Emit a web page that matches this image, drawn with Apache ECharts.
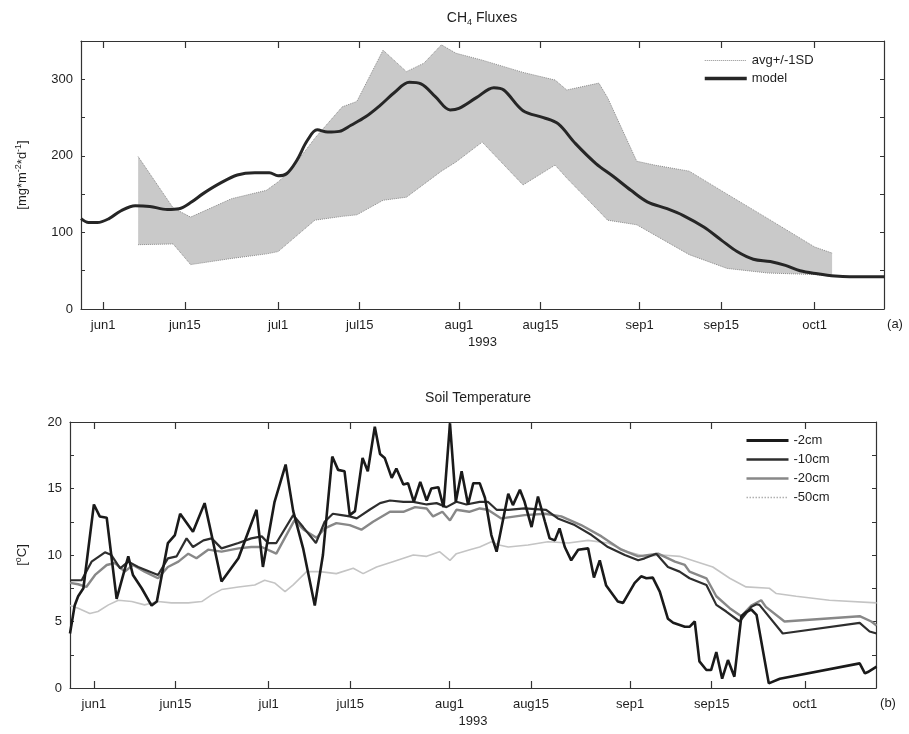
<!DOCTYPE html>
<html>
<head>
<meta charset="utf-8">
<script src="https://cdn.jsdelivr.net/npm/echarts@6/dist/echarts.min.js"></script>
<style>
  html, body { margin: 0; padding: 0; background: #fff; }
  #chart { width: 909px; height: 734px; }
</style>
</head>
<body>
<div id="chart"></div>
<script>
// Days are counted from 1 June 1993 (day 0).
const tickDays = [0, 14, 30, 44, 61, 75, 92, 106, 122];
const tickLabels = ['jun1', 'jun15', 'jul1', 'jul15', 'aug1', 'aug15', 'sep1', 'sep15', 'oct1'];

// CH4 flux measurements: mean +/- 1 SD envelope [mg m-2 d-1]
const bandDays  = [6, 12, 15, 22, 28, 30, 32, 36.3, 41, 43.5, 48, 52, 55, 58, 60.5, 65, 72, 77.5, 79.5, 85, 86.5, 91.5, 94.5, 100.5, 107, 114, 122, 125];
const bandUpper = [199, 132, 120, 144, 155, 166, 180, 223, 264, 271, 338, 310, 321, 345, 334, 325, 309, 299, 286, 295, 276, 193, 188, 180, 150, 118, 81, 73];
const bandLower = [84, 85, 58, 66, 72, 75, 88, 116, 121, 123, 142, 146, 163, 180, 192, 218, 162, 188, 171, 128, 116, 110, 97, 71, 53, 47, 45, 43];

// Modelled CH4 flux [day, mg m-2 d-1]
const modelFlux = [
  [-3.8,118],[-2.5,113],[-1,113],[1,118],[3,128],[5.5,135],[8,134],[11,130],[13,131],[15,139],
  [17.2,151],[20,164],[23,175],[26,178],[28.5,178],[30,174],[31.5,177],[33.2,194],[35,220],[36.7,234],
  [38.5,231],[40.5,232],[42.5,240],[45,251],[47.5,266],[50,283],[52.5,296],[54.5,294],[57,277],[59.5,260],
  [61,262],[64,276],[67,289],[68.7,286],[72,259],[75.5,250],[78,242],[81,216],[84.5,190],[87.5,173],
  [90.5,155],[93.3,140],[96.7,131],[99.5,122],[103,107],[106,90],[108.7,75],[111.5,65],[114.4,62],[117,57],
  [119.5,50],[122.5,46],[125.5,43],[128,42],[134,42]
];

// Soil temperatures [day, degC]
const temp2cm = [
  [-4.1,4.1],[-3.3,6.2],[-2.7,6.9],[-1.8,7.5],[0,13.8],[1,12.9],[2.2,12.8],[3.9,6.7],[5.9,9.9],[6.7,8.5],
  [8.2,7.5],[9.9,6.2],[10.8,6.5],[12.7,10.9],[13.9,11.5],[14.8,13.1],[17,11.75],[19,13.9],[20.2,11.5],[21.9,8.0],
  [24.8,9.75],[27.9,13.4],[29,9.1],[31,14],[32.9,16.8],[34.2,13.3],[35.9,10.5],[37.9,6.2],[39.3,10],[40.9,17.4],
  [41.9,16.4],[43,16.3],[43.9,13],[44.8,13.3],[46.1,17.3],[47,16.3],[48.2,19.65],[49.1,17.6],[49.9,17.3],[51.1,15.8],
  [51.9,16.5],[53.1,15.3],[53.9,15.4],[54.9,14],[56,15.5],[57.1,14.1],[57.9,15],[59.1,15.1],[60,13.6],[61.1,19.9],
  [62.1,14],[63.1,16.3],[64.2,13.8],[65.1,15.4],[66.2,15.4],[67.1,14.3],[68.2,11.5],[69.1,10.25],[71.1,14.6],[71.9,13.75],
  [73.1,14.9],[73.9,14],[75.1,12.1],[76.2,14.4],[77.4,12.5],[78.2,11.25],[79.1,11.1],[79.9,12],[80.8,10.6],[81.9,9.6],
  [83.1,10.4],[84.8,10.5],[85.8,8.3],[86.8,9.6],[87.9,7.7],[89.9,6.5],[90.8,6.4],[92.8,7.9],[93.9,8.4],[94.8,8.25],
  [95.9,8.3],[97.1,7.25],[98.5,5.2],[99.4,4.9],[101.4,4.6],[102.2,4.6],[103.1,5],[103.9,2],[105.1,1.35],[105.9,1.35],
  [106.8,2.7],[107.8,0.7],[108.8,2.1],[109.9,0.85],[111.1,5.4],[111.9,5.7],[112.8,5.9],[113.7,5.5],[115.8,0.35],[117.7,0.7],
  [131.4,1.85],[132.3,1.1],[132.8,1.2],[134.3,1.6]
];
const temp10cm = [
  [-4.1,8.1],[-2.1,8.1],[-0.4,9.5],[1.9,10.2],[3,10],[4.5,9],[5.9,9.5],[7.6,9.1],[11,8.5],[12.7,9.75],
  [14.2,9.9],[15.9,11.25],[17,10.6],[18.8,11.1],[20.2,11.25],[21.9,10.5],[24.8,10.9],[27,11.25],[28.8,11.4],[29.9,10.9],
  [31.3,10.9],[34.2,13],[35.9,12.1],[38.1,10.9],[39.6,12.5],[41,13.1],[42.5,13],[43.9,12.9],[45.1,12.75],[47.3,13.4],
  [49.1,13.9],[50.8,14.1],[53.1,14],[54.8,14],[57.1,13.8],[58.8,13.9],[60.5,13.6],[62.2,14],[63.9,13.8],[66.2,14],
  [67.6,14],[69.1,13.4],[71.1,13.4],[73.9,13.5],[77.6,13.4],[79.6,12.75],[82.5,12.25],[85.4,11.5],[88.2,10.6],[91.1,10],
  [93.4,9.6],[94.5,9.75],[96.5,10.1],[98.5,9.1],[100.5,8.75],[102.2,8.25],[105.1,7.75],[106.8,6.25],[108.5,5.75],[110.8,5],
  [112.8,6.1],[113.7,6.3],[114.2,6.25],[118.2,4.1],[131.4,4.9],[133.1,4.25],[134.3,4.1]
];
const temp20cm = [
  [-4.1,7.9],[-2.7,7.8],[-1.3,7.6],[0.2,8.5],[2.2,9.25],[3.6,9.4],[5.3,8.75],[6.7,9.25],[8.7,8.75],[11,8.25],
  [12.7,9.1],[14.5,9.5],[16.2,10.1],[17.6,9.75],[19.6,10.4],[21.9,10.25],[24.8,10.5],[27,10.6],[28.8,10.6],[31.3,10.1],
  [34.4,12.6],[36,11.9],[38.2,11.3],[39.6,12],[41.6,12.4],[43.9,12.25],[45.9,11.9],[47.9,12.5],[50.8,13.25],[53.1,13.25],
  [55.1,13.6],[57.1,13.5],[58.2,12.9],[59.8,13.25],[61.1,12.6],[62.2,13.4],[64.4,13.25],[66.2,13.5],[67.6,13.4],[69.9,12.75],
  [73.9,13],[77.4,13.1],[80.2,12.9],[83.6,12.25],[87.1,11.4],[90.5,10.4],[93.4,9.9],[96.8,10.1],[99.7,9.5],[101.4,9.25],
  [102.2,8.75],[105.1,8.25],[106.8,6.9],[109.1,6],[111.1,5.4],[112.8,6.2],[114.5,6.6],[115.3,6.1],[118.5,5],[131.4,5.4],
  [133.4,5],[134.3,4.7]
];
const temp50cm = [
  [-4.1,6.2],[-2.7,6],[-0.7,5.6],[0.7,5.75],[2.5,6.25],[4.2,6.6],[6.5,6.5],[8.7,6.25],[11,6.5],[13.3,6.4],
  [16.2,6.4],[18.5,6.5],[20.2,7],[21.9,7.4],[24.8,7.6],[27.6,7.75],[29.3,8.1],[31,7.9],[32.8,7.25],[34.2,7.75],
  [36.5,8.75],[38.8,8.75],[41.6,8.6],[44.5,9],[46.2,8.6],[48.5,9.1],[51.3,9.5],[54.8,10],[57.1,9.9],[59.3,10.25],
  [61.1,9.6],[62.2,10.1],[64.5,10.4],[66.2,10.6],[68.2,11],[69.5,10.75],[71.1,10.6],[74.5,10.75],[77.9,11],[81.4,10.9],
  [84.8,11.1],[88.2,10.9],[91.6,10.25],[94.5,9.9],[97.4,10],[100.5,9.9],[103.4,9.5],[106.2,9.1],[109.1,8.25],[111.9,7.6],
  [115.9,7.5],[117.1,7.1],[120.5,6.9],[126.2,6.6],[134.3,6.4]
];

const FONT = '"Liberation Sans", Arial, Helvetica, sans-serif';
const AXIS_COLOR = '#333';
const TEXT_COLOR = '#1e1e1e';

function dateAxis(gridIndex, position, withLabels, min, max) {
  return {
    type: 'value', gridIndex, position, min, max,
    name: withLabels ? '1993' : '',
    nameLocation: 'middle', nameGap: 27,
    nameTextStyle: { fontFamily: FONT, fontSize: 13, color: TEXT_COLOR },
    axisLine: { show: true, onZero: false, lineStyle: { color: AXIS_COLOR, width: 1.2 } },
    axisTick: { show: true, inside: true, length: 7, customValues: tickDays, lineStyle: { color: AXIS_COLOR, width: 1.2 } },
    axisLabel: {
      show: withLabels, customValues: tickDays, margin: 10,
      fontFamily: FONT, fontSize: 13, color: TEXT_COLOR,
      formatter: v => tickLabels[tickDays.indexOf(v)] || ''
    },
    splitLine: { show: false }
  };
}

function valueAxis(gridIndex, position, withLabels, min, max, interval, labelStep, name, nameGap, nameRich) {
  return {
    type: 'value', gridIndex, position, min, max, interval,
    name: withLabels ? name : '',
    nameLocation: 'middle', nameRotate: 90, nameGap,
    nameTextStyle: { fontFamily: FONT, fontSize: 13, color: TEXT_COLOR, rich: nameRich },
    axisLine: { show: true, onZero: false, lineStyle: { color: AXIS_COLOR, width: 1.2 } },
    axisTick: { show: true, inside: true, length: 4, lineStyle: { color: AXIS_COLOR, width: 1 } },
    axisLabel: {
      show: withLabels, margin: 8, fontFamily: FONT, fontSize: 13, color: TEXT_COLOR,
      formatter: v => (Math.abs(v % labelStep) < 1e-9 ? String(v) : '')
    },
    splitLine: { show: false }
  };
}

const baseText = { fontFamily: FONT, fontSize: 13, color: TEXT_COLOR, lineHeight: 16, verticalAlign: 'middle' };
const supText = { fontFamily: FONT, fontSize: 9, color: TEXT_COLOR, lineHeight: 9, verticalAlign: 'top' };
const nameRich = { n: baseText, sup: supText };

// Shaded envelope between the upper and lower SD edges, drawn as one polygon
function renderBand(params, api) {
  if (params.dataIndex !== 0) return null;
  const pts = [];
  for (let i = 0; i < bandDays.length; i++) pts.push(api.coord([bandDays[i], bandUpper[i]]));
  for (let i = bandDays.length - 1; i >= 0; i--) pts.push(api.coord([bandDays[i], bandLower[i]]));
  return { type: 'polygon', shape: { points: pts }, style: { fill: '#c9c9c9' }, silent: true };
}

const bandUpperLine = bandDays.map((d, i) => [d, bandUpper[i]]);
const bandLowerLine = bandDays.map((d, i) => [d, bandLower[i]]);

const legendText = { fontFamily: FONT, fontSize: 13, color: TEXT_COLOR };

const option = {
  animation: false,
  backgroundColor: '#fff',
  grid: [
    { left: 81, top: 41, width: 803, height: 268 },
    { left: 70, top: 422, width: 806, height: 266 }
  ],
  xAxis: [
    dateAxis(0, 'bottom', true, -3.8, 133.9),
    dateAxis(0, 'top', false, -3.8, 133.9),
    dateAxis(1, 'bottom', true, -4.1, 134.2),
    dateAxis(1, 'top', false, -4.1, 134.2)
  ],
  yAxis: [
    valueAxis(0, 'left', true, 0, 350, 50, 100, '{n|[mg*m}{sup|-2}{n|*d}{sup|-1}{n|]}', 51, nameRich),
    valueAxis(0, 'right', false, 0, 350, 50, 100, '', 0, nameRich),
    valueAxis(1, 'left', true, 0, 20, 2.5, 5, '{n|[}{sup|o}{n|C]}', 40, nameRich),
    valueAxis(1, 'right', false, 0, 20, 2.5, 5, '', 0, nameRich)
  ],
  legend: [
    {
      left: 703, top: 54, orient: 'vertical', itemWidth: 42, itemHeight: 12, itemGap: 5, padding: 0,
      itemStyle: { opacity: 0 },
      textStyle: legendText,
      data: [
        { name: 'avg+/-1SD', lineStyle: { width: 1, type: 'dotted', color: '#8c8c8c' } },
        { name: 'model', lineStyle: { width: 3.5, color: '#262626' } }
      ]
    },
    {
      left: 745, top: 434, orient: 'vertical', itemWidth: 42, itemHeight: 12, itemGap: 6, padding: 0,
      itemStyle: { opacity: 0 },
      textStyle: legendText,
      data: [
        { name: '-2cm', lineStyle: { width: 3, color: '#1a1a1a' } },
        { name: '-10cm', lineStyle: { width: 2.6, color: '#2e2e2e' } },
        { name: '-20cm', lineStyle: { width: 2.6, color: '#888888' } },
        { name: '-50cm', lineStyle: { width: 1.5, type: 'dotted', color: '#b0b0b0' } }
      ]
    }
  ],
  series: [
    {
      name: 'band', type: 'custom', xAxisIndex: 0, yAxisIndex: 0, z: 1,
      data: [[bandDays[0], bandLower[0]]], renderItem: renderBand, silent: true
    },
    {
      name: 'avg+/-1SD', type: 'line', xAxisIndex: 0, yAxisIndex: 0,
      data: bandLowerLine, symbol: 'none', z: 2,
      itemStyle: { color: '#8c8c8c' },
      lineStyle: { color: '#8c8c8c', width: 1, type: 'dotted' }
    },
    {
      name: 'avg+/-1SD', type: 'line', xAxisIndex: 0, yAxisIndex: 0,
      data: bandUpperLine, symbol: 'none', z: 2,
      itemStyle: { color: '#8c8c8c' },
      lineStyle: { color: '#8c8c8c', width: 1, type: 'dotted' }
    },
    {
      name: 'model', type: 'line', xAxisIndex: 0, yAxisIndex: 0,
      data: modelFlux, symbol: 'none', smooth: 0.35, z: 3,
      itemStyle: { color: '#262626' },
      lineStyle: { color: '#262626', width: 3 }
    },
    {
      name: '-50cm', type: 'line', xAxisIndex: 2, yAxisIndex: 2,
      data: temp50cm, symbol: 'none', z: 2,
      itemStyle: { color: '#c4c4c4' },
      lineStyle: { color: '#c4c4c4', width: 1.6 }
    },
    {
      name: '-20cm', type: 'line', xAxisIndex: 2, yAxisIndex: 2,
      data: temp20cm, symbol: 'none', z: 3,
      itemStyle: { color: '#888888' },
      lineStyle: { color: '#888888', width: 2.4 }
    },
    {
      name: '-10cm', type: 'line', xAxisIndex: 2, yAxisIndex: 2,
      data: temp10cm, symbol: 'none', z: 4,
      itemStyle: { color: '#2e2e2e' },
      lineStyle: { color: '#2e2e2e', width: 2.2 }
    },
    {
      name: '-2cm', type: 'line', xAxisIndex: 2, yAxisIndex: 2,
      data: temp2cm, symbol: 'none', z: 5,
      itemStyle: { color: '#1a1a1a' },
      lineStyle: { color: '#1a1a1a', width: 2.6 }
    }
  ],
  graphic: [
    {
      type: 'text', x: 482, y: 18,
      style: {
        text: '{n|CH}{sub|4}{n| Fluxes}', align: 'center', verticalAlign: 'middle',
        rich: {
          n: { fontFamily: FONT, fontSize: 14, fill: TEXT_COLOR, lineHeight: 18, verticalAlign: 'middle' },
          sub: { fontFamily: FONT, fontSize: 9, fill: TEXT_COLOR, lineHeight: 9, verticalAlign: 'bottom' }
        }
      }
    },
    {
      type: 'text', x: 478, y: 398,
      style: { text: 'Soil Temperature', align: 'center', verticalAlign: 'middle', fontFamily: FONT, fontSize: 14, fill: TEXT_COLOR }
    },
    {
      type: 'text', x: 895, y: 324,
      style: { text: '(a)', align: 'center', verticalAlign: 'middle', fontFamily: FONT, fontSize: 13, fill: TEXT_COLOR }
    },
    {
      type: 'text', x: 888, y: 703,
      style: { text: '(b)', align: 'center', verticalAlign: 'middle', fontFamily: FONT, fontSize: 13, fill: TEXT_COLOR }
    }
  ]
};

const chart = echarts.init(document.getElementById('chart'));
chart.setOption(option);
</script>
</body>
</html>
